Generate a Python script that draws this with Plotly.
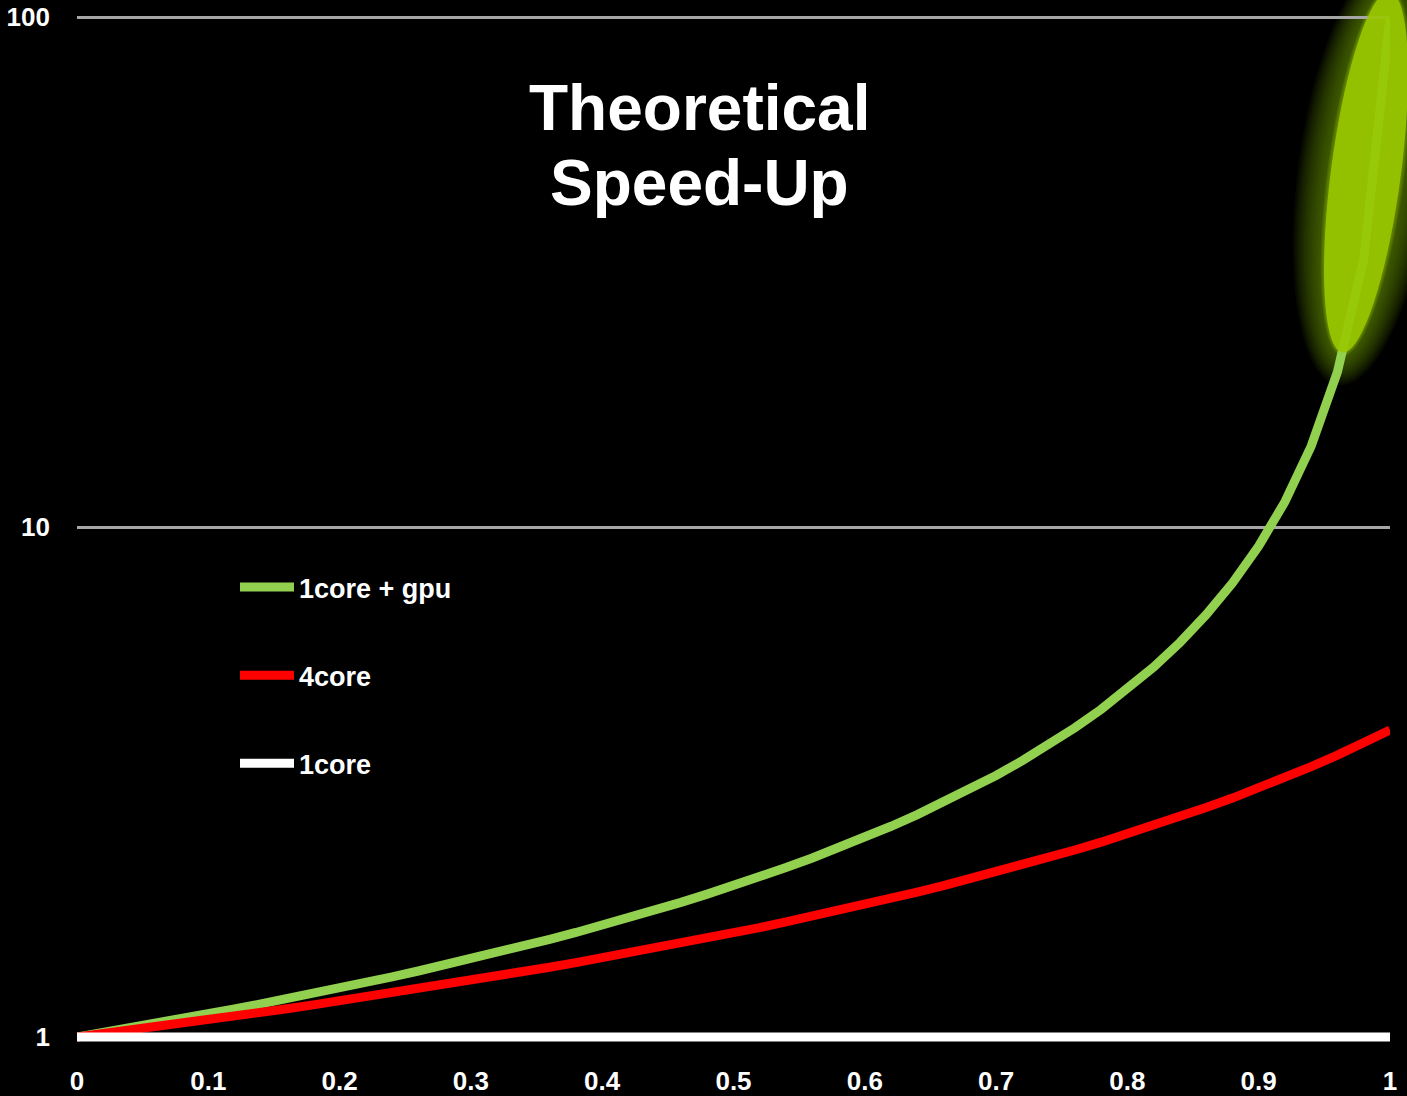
import numpy as np
import plotly.graph_objects as go

# fraction of parallel code
x_vals = [0.00, 0.02, 0.04, 0.06, 0.08, 0.10, 0.12, 0.14, 0.16, 0.18,
          0.20, 0.22, 0.24, 0.26, 0.28, 0.30, 0.32, 0.34, 0.36, 0.38,
          0.40, 0.42, 0.44, 0.46, 0.48, 0.50, 0.52, 0.54, 0.56, 0.58,
          0.60, 0.62, 0.64, 0.66, 0.68, 0.70, 0.72, 0.74, 0.76, 0.78,
          0.80, 0.82, 0.84, 0.86, 0.88, 0.90, 0.92, 0.94, 0.96, 0.98, 1.00]

gpu_vals = [1.000, 1.020, 1.041, 1.063, 1.086, 1.110, 1.135, 1.161, 1.188, 1.217,
            1.247, 1.278, 1.312, 1.347, 1.384, 1.423, 1.464, 1.507, 1.554, 1.603,
            1.656, 1.712, 1.772, 1.836, 1.906, 1.980, 2.061, 2.149, 2.244, 2.349,
            2.463, 2.589, 2.729, 2.885, 3.060, 3.257, 3.482, 3.740, 4.039, 4.390,
            4.808, 5.314, 5.938, 6.730, 7.764, 9.174, 11.21, 14.41, 20.16, 33.56, 100.0]

core4_vals = [1.000, 1.015, 1.031, 1.047, 1.064, 1.081, 1.099, 1.117, 1.136, 1.156,
              1.177, 1.198, 1.220, 1.242, 1.266, 1.290, 1.316, 1.342, 1.370, 1.399,
              1.429, 1.460, 1.493, 1.527, 1.563, 1.600, 1.639, 1.681, 1.724, 1.770,
              1.818, 1.869, 1.923, 1.980, 2.041, 2.105, 2.174, 2.247, 2.326, 2.410,
              2.500, 2.597, 2.703, 2.817, 2.941, 3.077, 3.226, 3.390, 3.571, 3.774, 4.000]

core1_vals = [1.0] * len(x_vals)

series_names = ["1core + gpu", "4core", "1core"]
series_colors = ["#92d050", "#ff0000", "#ffffff"]

x_tickvals = [0, 0.1, 0.2, 0.3, 0.4, 0.5, 0.6, 0.7, 0.8, 0.9, 1]
x_ticktext = ["0", "0.1", "0.2", "0.3", "0.4", "0.5", "0.6", "0.7", "0.8", "0.9", "1"]
y_tickvals = [1, 10, 100]
y_ticktext = ["1", "10", "100"]

title_lines = ["Theoretical", "Speed-Up"]

FONT = "Liberation Sans, Arial, sans-serif"

fig = go.Figure()
for name, vals, col in zip(series_names, [gpu_vals, core4_vals, core1_vals], series_colors):
    fig.add_trace(go.Scatter(
        x=x_vals, y=vals, mode="lines", name=name, legendgroup=name,
        line=dict(color=col, width=9),
        hoverinfo="skip",
    ))

# pixel -> paper helpers (plot area: x 77..1390, y 11..1043)
L, R, T, B = 77, 1390, 11, 1043
def px(xp):
    return (xp - L) / (R - L)
def py(yp):
    return (B - yp) / (B - T)

def ellipse_path(cx, cy, a, b, ang_deg, n=72):
    th = np.linspace(0, 2 * np.pi, n, endpoint=False)
    ang = np.deg2rad(ang_deg)
    pts = []
    for t in th:
        ex = b * np.cos(t)
        ey = a * np.sin(t)
        xr = ex * np.cos(ang) - ey * np.sin(ang)
        yr = ex * np.sin(ang) + ey * np.cos(ang)
        pts.append((px(cx + xr), py(cy + yr)))
    d = "M" + " L".join(f"{u:.5f},{v:.5f}" for u, v in pts) + " Z"
    return d

shapes = []
cx, cy, a, b, ang = 1366, 172, 182, 35, 7.5
# outer glow (soft halo)
for k in range(15, 0, -1):
    grow = k * 2.2
    shapes.append(dict(type="path", xref="paper", yref="paper",
                       path=ellipse_path(cx, cy, a + grow, b + grow, ang),
                       fillcolor="rgba(110,145,0,0.065)", line=dict(width=0),
                       layer="below"))
# soft edge of bright ellipse
for k in range(3, 0, -1):
    shapes.append(dict(type="path", xref="paper", yref="paper",
                       path=ellipse_path(cx, cy, a + k * 1.2, b + k * 1.2, ang),
                       fillcolor="rgba(138,180,0,0.18)", line=dict(width=0),
                       layer="below"))
shapes.append(dict(type="path", xref="paper", yref="paper",
                   path=ellipse_path(cx, cy, a, b, ang),
                   fillcolor="rgba(153,200,0,0.90)", line=dict(width=0),
                   layer="above"))

annotations = []
for txt, yc in zip(title_lines, [108, 183]):
    annotations.append(dict(text=txt, xref="paper", yref="paper",
                            x=px(699), y=py(yc), xanchor="center", yanchor="middle",
                            showarrow=False,
                            font=dict(family=FONT, size=64, color="#ffffff", weight="bold")))

fig.update_layout(
    width=1407, height=1096,
    paper_bgcolor="#000000", plot_bgcolor="#000000",
    margin=dict(l=L, r=1407 - R, t=T, b=1096 - B, pad=0, autoexpand=False),
    font=dict(family=FONT, color="#ffffff", size=26, weight="bold"),
    showlegend=True,
    hovermode=False,
    legend=dict(x=px(235), y=py(563), xanchor="left", yanchor="top",
                bgcolor="rgba(0,0,0,0)", font=dict(family=FONT, size=27, color="#ffffff", weight="bold"),
                tracegroupgap=50, itemwidth=54, traceorder="grouped"),
    xaxis=dict(range=[0, 1], tickvals=x_tickvals, ticktext=x_ticktext,
               showgrid=False, zeroline=False, showline=False, automargin=False,
               ticks="", ticklabelstandoff=20,
               tickfont=dict(family=FONT, size=26, color="#ffffff", weight="bold")),
    yaxis=dict(type="log", range=[-0.0118, 2.0118], tickvals=y_tickvals, ticktext=y_ticktext,
               showgrid=True, gridcolor="#a6a6a6", gridwidth=2.5, zeroline=False, showline=False,
               automargin=False, ticks="", ticklabelstandoff=26,
               tickfont=dict(family=FONT, size=26, color="#ffffff", weight="bold")),
    shapes=shapes,
    annotations=annotations,
)

fig.write_html("out.html", config={"displayModeBar": False},
               post_script="document.body.style.margin='0';document.body.style.background='#000';")
